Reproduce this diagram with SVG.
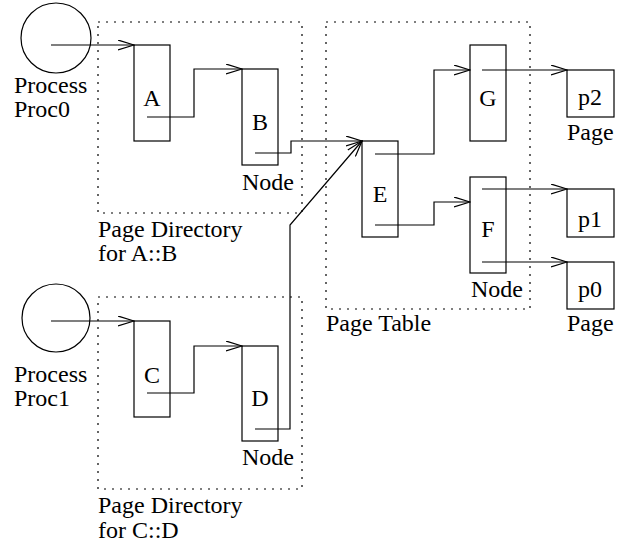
<svg xmlns="http://www.w3.org/2000/svg" width="621" height="543" viewBox="0 0 621 543">
<style>
text{font-family:"Liberation Serif","Times New Roman",serif;font-size:24px;fill:#000}
.c{text-anchor:middle}
.box{fill:none;stroke:#000;stroke-width:1.2}
.dot{fill:none;stroke:#000;stroke-width:1.2;stroke-dasharray:2,6}
.ln{fill:none;stroke:#000;stroke-width:1.2;marker-end:url(#ah)}
</style>
<defs>
<marker id="ah" viewBox="0 0 17 11" refX="16" refY="5.5" markerWidth="17" markerHeight="11" orient="auto" markerUnits="userSpaceOnUse">
<path d="M0,0.5 L16,5.5 L0,10.5" fill="none" stroke="#000" stroke-width="1.2"/>
</marker>
</defs>
<rect fill="#fff" width="621" height="543"/>
<g id="pd1"><rect class="dot" x="98" y="22" width="204" height="191"/><text x="98" y="237">Page Directory</text><text x="98" y="261">for A::B</text></g>
<g id="pd2"><rect class="dot" x="98" y="297" width="204" height="192"/><text x="98" y="513">Page Directory</text><text x="98" y="538">for C::D</text></g>
<g id="pt"><rect class="dot" x="326" y="22" width="204" height="287"/><text x="326" y="331">Page Table</text></g>
<g id="proc0"><circle class="box" cx="56" cy="38" r="35"/><text x="14" y="93">Process</text><text x="14" y="117">Proc0</text></g>
<g id="proc1"><circle class="box" cx="56" cy="318" r="34"/><text x="14" y="382">Process</text><text x="14" y="406">Proc1</text></g>
<g id="A"><rect class="box" x="134" y="45" width="36" height="96"/><text class="c" x="152" y="106">A</text></g>
<g id="B"><rect class="box" x="242" y="69" width="36" height="96"/><text class="c" x="260" y="130">B</text><text x="242" y="190">Node</text></g>
<g id="C"><rect class="box" x="134" y="321" width="36" height="96"/><text class="c" x="152" y="383">C</text></g>
<g id="D"><rect class="box" x="242" y="346" width="36" height="95"/><text class="c" x="260" y="406">D</text><text x="242" y="465">Node</text></g>
<g id="E"><rect class="box" x="362" y="141" width="36" height="96"/><text class="c" x="380" y="202">E</text></g>
<g id="G"><rect class="box" x="470" y="45" width="36" height="96"/><text class="c" x="488" y="106">G</text></g>
<g id="F"><rect class="box" x="470" y="177" width="36" height="96"/><text class="c" x="488" y="237">F</text><text x="471" y="297">Node</text></g>
<g id="p2"><rect class="box" x="567" y="70" width="47" height="47"/><text class="c" x="590" y="105">p2</text><text x="567" y="140">Page</text></g>
<g id="p1"><rect class="box" x="567" y="189" width="47" height="48"/><text class="c" x="590" y="227">p1</text></g>
<g id="p0"><rect class="box" x="567" y="262" width="47" height="47"/><text class="c" x="590" y="297">p0</text><text x="567" y="331">Page</text></g>
<g id="connectors">
<path class="ln" d="M51,45 H134"/>
<path class="ln" d="M147,117 H194 V69 H242"/>
<path class="ln" d="M255,153 H291 V141 H362"/>
<path class="ln" d="M51,321 H134"/>
<path class="ln" d="M147,393 H194 V346 H242"/>
<path class="ln" d="M255,429 H290 V225 L362,141"/>
<path class="ln" d="M375,154 H434 V70 H470"/>
<path class="ln" d="M375,225 H434 V202 H470"/>
<path class="ln" d="M482,70 H567"/>
<path class="ln" d="M482,189 H567"/>
<path class="ln" d="M482,262 H567"/>
</g>
</svg>
